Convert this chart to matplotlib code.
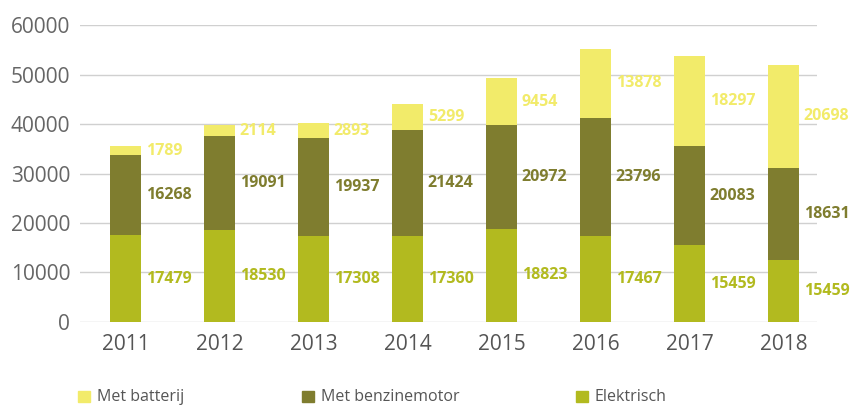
import matplotlib.pyplot as plt
from matplotlib.patches import Rectangle

plt.rcParams['font.family'] = ['Open Sans', 'DejaVu Sans']

years = ['2011', '2012', '2013', '2014', '2015', '2016', '2017', '2018']
elektrisch = [17479, 18530, 17308, 17360, 18823, 17467, 15459, 12550]
benzinemotor = [16268, 19091, 19937, 21424, 20972, 23796, 20083, 18631]
batterij = [1789, 2114, 2893, 5299, 9454, 13878, 18297, 20698]
# labels as printed in the original (2018 'Elektrisch' label differs from its bar)
elektrisch_labels = ['17479', '18530', '17308', '17360', '18823', '17467', '15459', '15459']

series_names = ['Met batterij', 'Met benzinemotor', 'Elektrisch']
c_bat = '#f2eb6a'
c_benz = '#7f7d2f'
c_el = '#b2ba1f'

fig = plt.figure(figsize=(8.5, 4.05), dpi=100)
ax = fig.add_axes([0.094, 0.205, 0.867, 0.733])

x = list(range(len(years)))
w = 0.33
bottom2 = elektrisch
bottom3 = [a + b for a, b in zip(elektrisch, benzinemotor)]
ax.bar(x, elektrisch, w, color=c_el, zorder=2)
ax.bar(x, benzinemotor, w, bottom=bottom2, color=c_benz, zorder=2)
ax.bar(x, batterij, w, bottom=bottom3, color=c_bat, zorder=2)

for i in x:
    ax.text(i + 0.21, elektrisch[i] / 2, elektrisch_labels[i], color=c_el,
            fontsize=11.5, fontweight='bold', ha='left', va='center')
    ax.text(i + 0.21, bottom2[i] + benzinemotor[i] / 2, str(benzinemotor[i]), color=c_benz,
            fontsize=11.5, fontweight='bold', ha='left', va='center')
    ax.text(i + 0.21, bottom3[i] + batterij[i] / 2, str(batterij[i]), color=c_bat,
            fontsize=11.5, fontweight='bold', ha='left', va='center')

ax.set_xlim(-0.49, 7.35)
ax.set_ylim(0, 60000)
ax.set_yticks(range(0, 60001, 10000))
ax.set_xticks(x)
ax.set_xticklabels(years)
ax.yaxis.grid(True, color='#d0d0d0', linewidth=1, zorder=0)
ax.set_axisbelow(True)
for s in ax.spines.values():
    s.set_visible(False)
ax.tick_params(axis='y', length=0, pad=7, labelsize=15, labelcolor='#666666')
ax.tick_params(axis='x', length=0, pad=9, labelsize=15, labelcolor='#555555')

# legend drawn by hand
leg_x = [0.0918, 0.3553, 0.6776]
leg_c = [c_bat, c_benz, c_el]
for lx, col, name in zip(leg_x, leg_c, series_names):
    fig.patches.append(Rectangle((lx, 0.007), 0.0141, 0.027, color=col,
                                 transform=fig.transFigure, figure=fig))
    fig.text(lx + 0.0224, 0.02, name, fontsize=11.5, color='#555555', va='center', ha='left')

fig.savefig('out.png', dpi=100)
